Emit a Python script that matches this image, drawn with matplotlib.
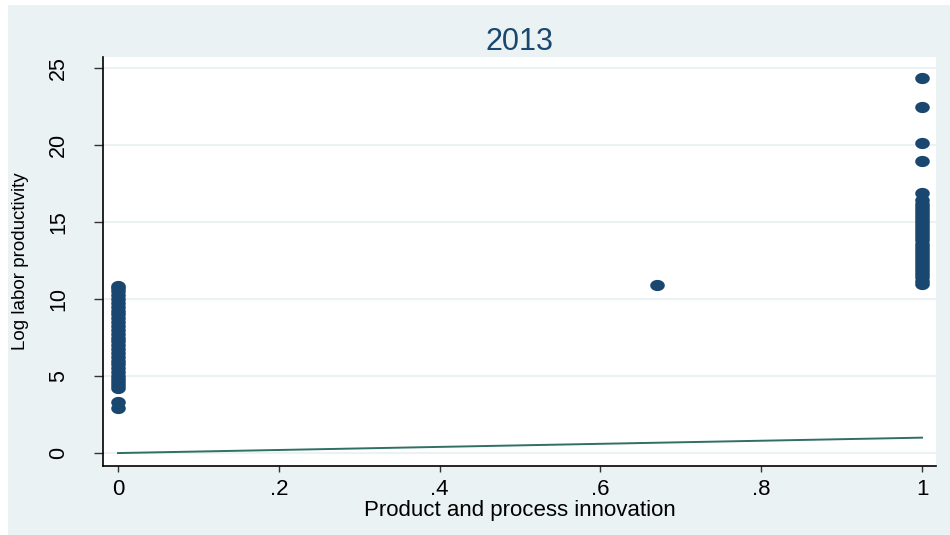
import numpy as np
import matplotlib.pyplot as plt
from matplotlib.path import Path
from matplotlib.patches import Rectangle

plt.rcParams['font.family'] = ['Liberation Sans', 'DejaVu Sans']

# log labor productivity by innovation status (2013)
prod_none = [2.95, 3.3, 4.25, 4.45, 4.6, 4.8, 5.0, 5.25, 5.5, 5.75, 6.0, 6.25,
             6.5, 6.75, 7.0, 7.25, 7.5, 7.75, 8.0, 8.25, 8.5, 8.75, 9.0, 9.25,
             9.5, 9.75, 10.0, 10.25, 10.5, 10.7, 10.85]
prod_mid = [10.9]
prod_both = [11.0, 11.2, 11.4, 11.6, 11.8, 12.0, 12.2, 12.4, 12.6, 12.8, 13.0,
             13.2, 13.4, 13.6, 13.8, 14.0, 14.2, 14.4, 14.6, 14.8, 15.0, 15.2,
             15.4, 15.6, 15.8, 16.0, 16.2, 16.45, 16.85, 18.98, 20.1, 22.45, 24.35]
innov_none = [0] * len(prod_none)
innov_mid = [0.67]
innov_both = [1] * len(prod_both)

# reference line y = x
line_x = [0, 1]
line_y = [0, 1]

navy = '#1A476F'
bg = '#EAF2F3'

# slightly wide dot, like the stata output
t = np.linspace(0, 2 * np.pi, 40)
dot = Path(np.column_stack([1.3 * np.cos(t), np.sin(t)]))

fig = plt.figure(figsize=(9.5, 5.35), dpi=100)
fig.patches.append(Rectangle((8 / 950, 0), 1, 1 - 5 / 535, transform=fig.transFigure,
                             facecolor=bg, edgecolor='none', zorder=-1))

ax = fig.add_axes([103 / 950, 1 - 466 / 535, (936 - 103) / 950, (466 - 57) / 535])
ax.set_facecolor('white')

x_all = innov_none + innov_mid + innov_both
y_all = prod_none + prod_mid + prod_both
ax.plot(x_all, y_all, linestyle='none', marker=dot, markersize=10.5,
        color=navy, markeredgewidth=0, zorder=3)
ax.plot(line_x, line_y, color='#2F6F65', linewidth=1.4, zorder=2)

ax.set_xlim(-0.0187, 1.0174)
ax.set_ylim(-0.84, 25.71)

ax.set_yticks([0, 5, 10, 15, 20, 25])
ax.set_yticklabels(['0', '5', '10', '15', '20', '25'], rotation=90, va='center', fontsize=15.5)
ax.set_xticks([0, 0.2, 0.4, 0.6, 0.8, 1])
ax.set_xticklabels(['0', '.2', '.4', '.6', '.8', '1'], fontsize=16)
ax.tick_params(axis='y', length=6.5, width=1, color='#333333', pad=18)
ax.tick_params(axis='x', length=4.5, width=1, color='#333333', pad=5)

ax.grid(axis='y', color=bg, linewidth=1.5)
ax.set_axisbelow(True)
for side in ['top', 'right']:
    ax.spines[side].set_visible(False)
for side in ['left', 'bottom']:
    ax.spines[side].set_linewidth(1.2)

ax.set_xlabel('Product and process innovation', fontsize=16, labelpad=0)
ax.set_ylabel('Log labor productivity', fontsize=13.5, labelpad=14)
ax.set_title('2013', fontsize=22, color=navy, pad=5)

fig.savefig('out.png', dpi=100, facecolor='white')
